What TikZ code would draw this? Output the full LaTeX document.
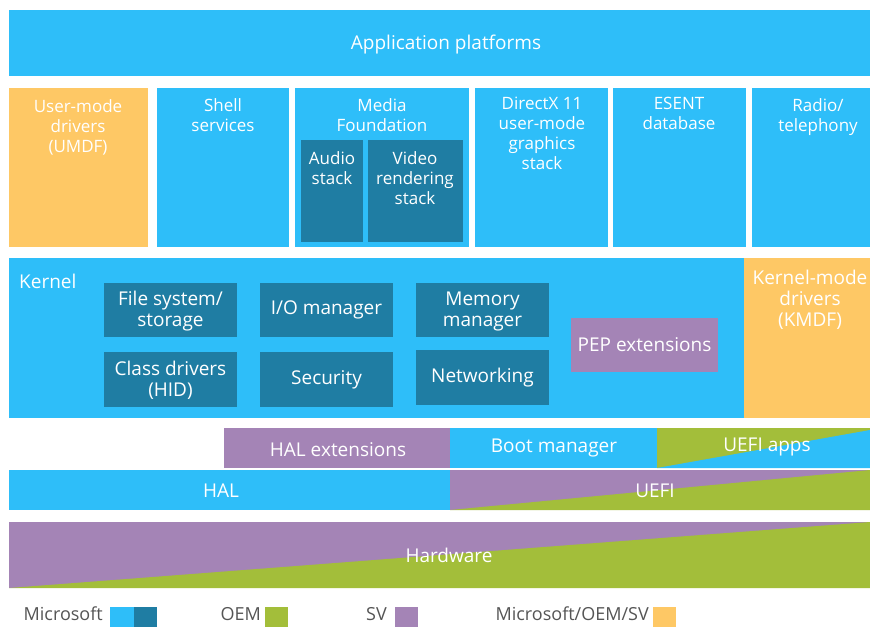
\documentclass[tikz,border=0pt]{standalone}
\usepackage{fontspec}
\setmainfont{Open Sans}
\definecolor{msblue}{HTML}{2EBEF9}
\definecolor{msdark}{HTML}{1F7DA3}
\definecolor{svpurple}{HTML}{A484B6}
\definecolor{oemgreen}{HTML}{A3BE3A}
\definecolor{mixyellow}{HTML}{FEC865}
\definecolor{legendgray}{HTML}{555555}
\tikzset{
  lbl/.style={text=white, font=\fontsize{17}{20}\selectfont, align=center, inner sep=0pt},
  biglbl/.style={lbl, font=\fontsize{19}{21}\selectfont},
  toplbl/.style={lbl, anchor=north},
  leg/.style={text=legendgray, font=\fontsize{18}{20}\selectfont, inner sep=0pt, anchor=east},
}
\begin{document}
\begin{tikzpicture}[x=1pt,y=-1pt]
\useasboundingbox (0,0) rectangle (870,627);
\fill[white] (0,0) rectangle (870,627);
% Application platforms
\fill[msblue] (9,10) rectangle (870,76);
\node[biglbl] (app) at (446,45) {Application platforms};
% Row 2
\fill[mixyellow] (9,88) rectangle (148,247);
\node[toplbl] (umdf) at (78,99) {User-mode\\drivers\\(UMDF)};
\fill[msblue] (157,88) rectangle (289,247);
\node[toplbl] (shell) at (223,98) {Shell\\services};
\fill[msblue] (295,88) rectangle (469,247);
\node[toplbl] (media) at (382,98) {Media\\Foundation};
\fill[msdark] (301,140) rectangle (363,242);
\node[toplbl] (audio) at (332,151) {Audio\\stack};
\fill[msdark] (368,140) rectangle (463,242);
\node[toplbl] (video) at (415,151) {Video\\rendering\\stack};
\fill[msblue] (475,88) rectangle (608,247);
\node[toplbl] (dx) at (542,97) {DirectX 11\\user-mode\\graphics\\stack};
\fill[msblue] (613,88) rectangle (746,247);
\node[toplbl] (esent) at (679,97) {ESENT\\database};
\fill[msblue] (752,88) rectangle (870,247);
\node[toplbl] (radio) at (818,98) {Radio/\\telephony};
% Kernel
\fill[msblue] (9,258) rectangle (744,418);
\node[biglbl, anchor=west] (kernel) at (19,281) {Kernel};
\fill[mixyellow] (744,258) rectangle (870,418);
\node[biglbl, anchor=north] (kmdf) at (810,270) {Kernel-mode\\drivers\\(KMDF)};
\fill[msdark] (104,283) rectangle (237,337);
\node[biglbl] (fs) at (170.5,311) {File system/\\storage};
\fill[msdark] (260,283) rectangle (393,337);
\node[biglbl] (io) at (326.5,310) {I/O manager};
\fill[msdark] (416,283) rectangle (549,337);
\node[biglbl] (mem) at (482.5,311) {Memory\\manager};
\fill[msdark] (104,352) rectangle (237,407);
\node[biglbl] (cls) at (170.5,380) {Class drivers\\(HID)};
\fill[msdark] (260,352) rectangle (393,407);
\node[biglbl] (sec) at (326.5,380) {Security};
\fill[msdark] (416,350) rectangle (549,405);
\node[biglbl] (net) at (482.5,378) {Networking};
\fill[svpurple] (571,318) rectangle (718,372);
\node[biglbl] (pep) at (644.5,345) {PEP extensions};
% HAL ext / Boot / UEFI apps
\fill[svpurple] (224,428) rectangle (450,468);
\node[biglbl] (halext) at (338,450) {HAL extensions};
\fill[msblue] (450,428) rectangle (657,468);
\node[biglbl] (boot) at (554,448) {Boot manager};
\fill[oemgreen] (657,428) rectangle (870,468);
\fill[msblue] (657,468) -- (870,430) -- (870,468) -- cycle;
\node[biglbl] (uefiapps) at (767,447) {UEFI apps};
% HAL / UEFI
\fill[msblue] (9,470) rectangle (450,510);
\node[biglbl] (hal) at (221,491) {HAL};
\fill[svpurple] (450,470) rectangle (870,510);
\fill[oemgreen] (450,510) -- (870,470) -- (870,510) -- cycle;
\node[biglbl] (uefi) at (655,491) {UEFI};
% Hardware
\fill[svpurple] (9,522) rectangle (870,588);
\fill[oemgreen] (9,588) -- (870,522) -- (870,588) -- cycle;
\node[biglbl] (hw) at (449,555) {Hardware};
% Legend
\node[leg] (lms) at (103,614) {Microsoft};
\fill[msblue] (110,607) rectangle (134,627);
\fill[msdark] (134,607) rectangle (157,627);
\node[leg] (loem) at (261,614) {OEM};
\fill[oemgreen] (265,607) rectangle (288,627);
\node[leg] (lsv) at (387,614) {SV};
\fill[svpurple] (395,607) rectangle (418,627);
\node[leg] (lmix) at (649,614) {Microsoft/OEM/SV};
\fill[mixyellow] (653,607) rectangle (676,627);
\end{tikzpicture}
\end{document}
